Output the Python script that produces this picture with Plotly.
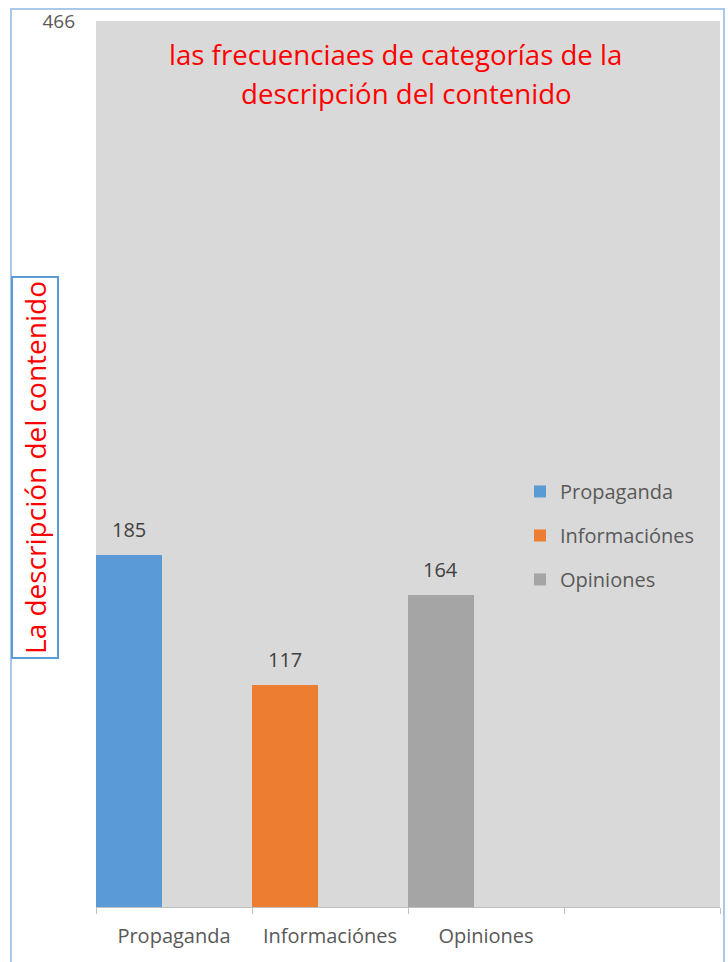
import plotly.graph_objects as go

categories = ["Propaganda", "Informaciónes", "Opiniones"]
values = [185, 117, 164]
colors = ["#5b9bd5", "#ed7d31", "#a5a5a5"]
y_max = 466
title_lines = ["las frecuenciaes de categorías de la", "descripción del contenido"]
y_title = "La descripción del contenido"

FONT = "Open Sans, Lato, sans-serif"
W, H = 728, 962
L, R, T, B = 96, 8, 17, 55
pw, ph = W - L - R, H - T - B

def px_x(x):
    return (x - L) / pw

def px_y(y):
    return (H - B - y) / ph

fig = go.Figure()
for i, (cat, val, col) in enumerate(zip(categories, values, colors)):
    fig.add_trace(go.Bar(
        x=[i], y=[val], name=cat, marker_color=col, marker_line_width=0,
        offset=0, width=0.42, legendgroup=cat, showlegend=True,
    ))
    fig.add_annotation(
        x=i + 0.21, y=val, text=str(val), showarrow=False, xref="x", yref="y",
        yanchor="bottom", yshift=10, font=dict(family=FONT, size=20, color="#404040"),
    )

for line, cx, cy in zip(title_lines, [395, 406], [50, 89]):
    fig.add_annotation(
        x=px_x(cx), y=px_y(cy), xref="paper", yref="paper", showarrow=False,
        text=line, xanchor="center", yanchor="middle",
        font=dict(family=FONT, size=27.6, color="#ff0000"),
    )

fig.add_annotation(
    x=px_x(35), y=px_y(466), xref="paper", yref="paper", showarrow=False,
    xanchor="center", yanchor="middle",
    text=y_title, textangle=-90, font=dict(family=FONT, size=28, color="#ff0000"),
    bordercolor="#5b9bd5", borderwidth=2, borderpad=3, bgcolor="white",
)

fig.add_shape(
    type="rect", xref="paper", yref="paper",
    x0=px_x(11), x1=px_x(724), y0=px_y(990), y1=px_y(5),
    line=dict(color="#a9c8ea", width=2), layer="below",
)

fig.update_layout(
    width=W, height=H,
    margin=dict(l=L, r=R, t=T, b=B),
    paper_bgcolor="white", plot_bgcolor="#d9d9d9",
    font=dict(family=FONT, color="#595959"),
    bargap=0,
    legend=dict(
        x=px_x(520), y=px_y(470), xanchor="left", yanchor="top",
        bgcolor="rgba(0,0,0,0)", font=dict(family=FONT, size=20, color="#595959"),
        tracegroupgap=15, itemwidth=30,
    ),
)
fig.update_xaxes(
    range=[0, 4], tickmode="array", tickvals=[0.5, 1.5, 2.5], ticktext=categories,
    ticks="", showgrid=False, zeroline=False, showline=True, linecolor="#bfbfbf",
    linewidth=1, tickfont=dict(family=FONT, size=20, color="#595959"),
    ticklabelstandoff=11,
    minor=dict(tickmode="array", tickvals=[0, 1, 2, 3, 4], ticks="outside",
               ticklen=6, tickcolor="#bfbfbf", showgrid=False),
)
fig.update_yaxes(
    range=[0, y_max], tickmode="array", tickvals=[y_max], ticktext=[str(y_max)],
    showgrid=False, zeroline=False, showline=False, ticks="",
    tickfont=dict(family=FONT, size=19, color="#595959"), ticklabelstandoff=20,
)

fig.write_html("out.html", config={"displayModeBar": False},
               post_script="document.body.style.margin='0';")
